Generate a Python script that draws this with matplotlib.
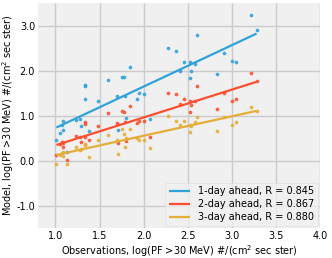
import numpy as np
import matplotlib
matplotlib.use('Agg')
import matplotlib.pyplot as plt
from matplotlib.ticker import FormatStrFormatter

plt.style.use('fivethirtyeight')

# observed log flux for each event
obs = [1.01, 1.05, 1.07, 1.08, 1.08, 1.13, 1.23, 1.28, 1.29, 1.33,
       1.34, 1.34, 1.38, 1.48, 1.60, 1.70, 1.71, 1.75, 1.78, 1.79,
       1.80, 1.845, 1.93, 1.95, 2.00, 2.07,
       2.28, 2.37, 2.41, 2.46, 2.53, 2.53, 2.54, 2.58, 2.61, 2.83,
       2.91, 3.00, 3.05, 3.22, 3.28]

day1 = [0.45, 0.61, 0.80, 0.89, 0.69, 0.19, 0.91, 0.93, 0.77, 1.66,
        1.69, 1.36, 0.66, 1.33, 1.80, 1.44, 0.69, 1.85, 1.85, 1.44,
        0.95, 2.07, 1.37, 1.51, 1.47, 0.93,
        2.50, 2.43, 1.99, 2.19, 2.20, 1.83, 1.98, 2.15, 2.80, 1.92,
        2.40, 2.22, 2.19, 3.23, 2.91]

day2 = [0.13, 0.37, 0.41, 0.39, 0.30, 0.02, 0.54, 0.52, 0.41, 0.81,
        0.86, 0.52, 0.45, 0.76, 1.06, 0.84, 0.40, 1.10, 1.07, 0.86,
        0.43, 1.21, 0.83, 0.87, 0.87, 0.52,
        1.51, 1.48, 1.25, 1.36, 1.33, 1.08, 1.23, 1.33, 1.66, 1.14,
        1.51, 1.33, 1.36, 1.94, 1.77]

day3 = [-0.07, 0.12, 0.16, 0.18, 0.10, -0.07, 0.31, 0.24, 0.26, 0.34,
        0.36, 0.34, 0.09, 0.45, 0.56, 0.45, 0.15, 0.71, 0.58, 0.31,
        0.51, 0.71, 0.51, 0.46, 0.46, 0.28,
        0.99, 0.89, 0.78, 0.87, 0.80, 0.63, 0.77, 0.86, 0.96, 0.66,
        0.97, 0.79, 0.85, 1.18, 1.11]

labels = ['1-day ahead', '2-day ahead', '3-day ahead']
r_vals = [0.845, 0.867, 0.880]
colors = ['#30a2da', '#fc4f30', '#e5ae38']

fig = plt.figure(figsize=(3.32, 2.58), dpi=100, facecolor='white')
ax = fig.add_axes([0.114, 0.116, 0.85, 0.872])
ax.set_facecolor('#f0f0f0')

x = np.array(obs)
xs = np.array([x.min(), x.max()])
for ys, lab, r, c in zip([day1, day2, day3], labels, r_vals, colors):
    ys = np.array(ys)
    ax.scatter(x, ys, s=7, color=c, alpha=0.9, lw=0, zorder=3)
    k, b = np.polyfit(x, ys, 1)
    ax.plot(xs, k*xs + b, color=c, lw=1.6, label='%s, R = %.3f' % (lab, r), zorder=4)

ax.set_xlim(0.8, 4.0)
ax.set_ylim(-1.5, 3.5)
ax.set_xticks(np.arange(1.0, 4.01, 0.5))
ax.set_yticks([-1.0, 0.0, 1.0, 2.0, 3.0])
ax.yaxis.set_major_formatter(FormatStrFormatter('%.1f'))
ax.tick_params(labelsize=7, length=0, pad=2)
ax.grid(True, color='#cbcbcb', lw=1)
for s in ax.spines.values():
    s.set_visible(False)

ax.set_xlabel('Observations, log(PF >30 MeV) #/(cm$^2$ sec ster)', fontsize=7, labelpad=2)
ax.set_ylabel('Model, log(PF >30 MeV) #/(cm$^2$ sec ster)', fontsize=7)
ax.yaxis.set_label_coords(-0.078, 0.5)

leg = ax.legend(loc='lower right', fontsize=7, frameon=True, handlelength=2.2,
                borderaxespad=0.2, labelspacing=0.3)
leg.get_frame().set_facecolor('#f0f0f0')
leg.get_frame().set_edgecolor('#dddddd')

fig.savefig('out.png', dpi=100, facecolor='white')
